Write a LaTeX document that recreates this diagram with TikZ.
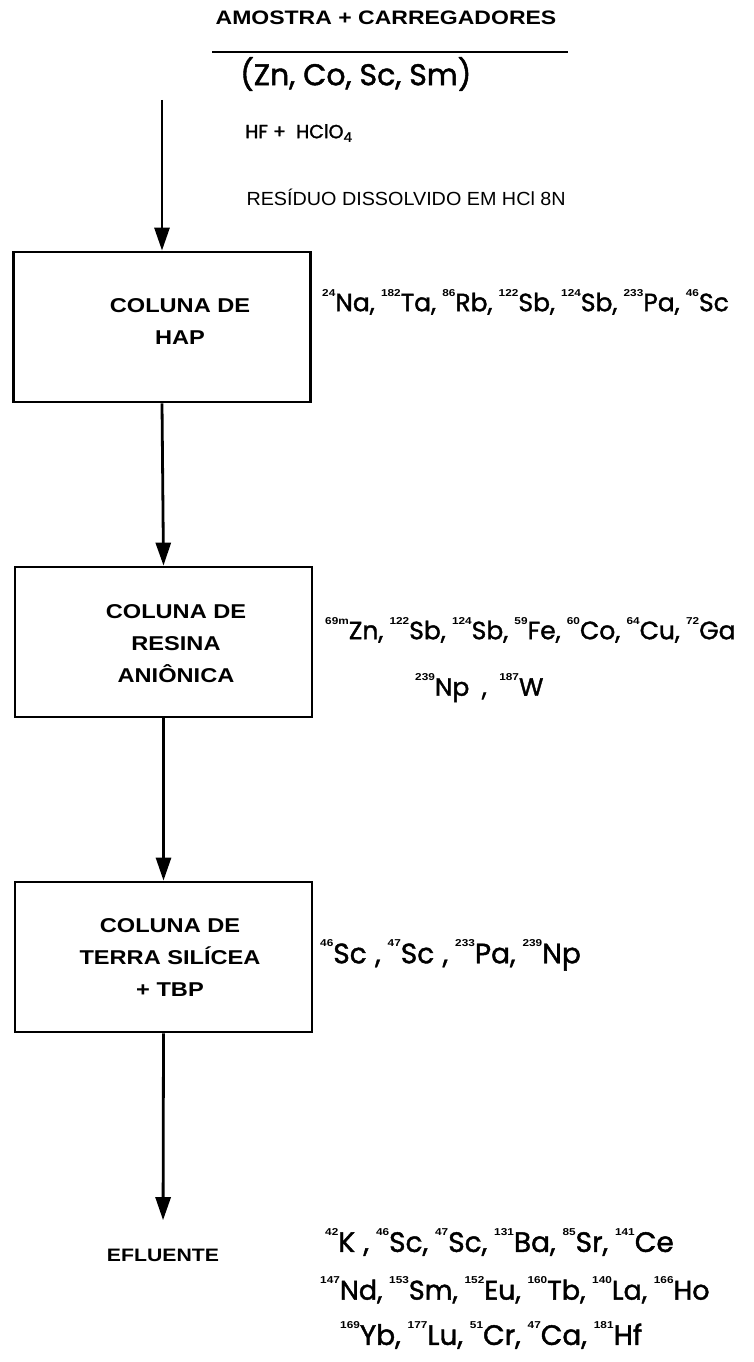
\documentclass[tikz,border=0pt]{standalone}
\usepackage{fontspec}
\setmainfont{Liberation Sans}
\newfontfamily\lab[FakeStretch=1.18]{Liberation Sans}
\newfontfamily\plain[FakeStretch=1.04]{Liberation Sans}
\newfontfamily\hand[FakeBold=1.5]{Poppins}
\usetikzlibrary{arrows.meta}
\newcommand\iso[2]{\raisebox{0.6em}{\lab\bfseries\fontsize{10}{10}\selectfont #1}#2}
\newcommand\cm{,\hspace{0.25em}}
\begin{document}
\begin{tikzpicture}[x=1pt,y=-1pt,
  box/.style={draw, line width=2.8pt, minimum width=297pt, minimum height=150pt, inner sep=0pt},
  flow/.style={line width=2.8pt, -{Triangle[length=23pt,width=15pt]}},
  btxt/.style={font=\lab\bfseries\fontsize{20}{32}\selectfont, align=center},
  ptxt/.style={font=\plain\fontsize{19}{22}\selectfont, anchor=west},
  htxt/.style={font=\hand\fontsize{25}{30}\selectfont, anchor=west, inner sep=0pt}]
\useasboundingbox (0,0) rectangle (753,1362);
\node[font=\lab\bfseries\fontsize{19.5}{22}\selectfont] (title) at (386,18) {AMOSTRA + CARREGADORES};
\draw[line width=1.5pt] (212,52) -- (568,52);
\node[htxt, font=\hand\fontsize{30}{34}\selectfont] (carr) at (240,74) {(Zn, Co, Sc, Sm)};
\node[htxt, font=\hand\fontsize{19}{24}\selectfont] (acid) at (245,133) {HF\ +\ \ HClO\textsubscript{4}};
\node[ptxt] (res) at (243,197) {RESÍDUO DISSOLVIDO EM HCl 8N};
\node[box] (b1) at (162,327) {};
\node[box] (b2) at (163.5,642) {};
\node[box] (b3) at (163.5,957) {};
\node[btxt] (t1) at (180,322) {COLUNA DE\\HAP};
\node[btxt] (t2) at (176,644) {COLUNA DE\\RESINA\\ANIÔNICA};
\node[btxt] (t3) at (170,958) {COLUNA DE\\TERRA SILÍCEA\\+ TBP};
\node[btxt, font=\lab\bfseries\fontsize{18}{22}\selectfont] (eff) at (163,1255) {EFLUENTE};
\coordinate (start) at (162,100);
\draw[flow] (start) -- (b1.north);
\draw[flow] (b1.south) -- (b2.north);
\draw[flow] (b2.south) -- (b3.north);
\draw[flow, shorten >=25pt] (b3.south) -- (eff.north);
\node[htxt] (l1) at (322,302) {\iso{24}{Na}\cm\iso{182}{Ta}\cm\iso{86}{Rb}\cm\iso{122}{Sb}\cm\iso{124}{Sb}\cm\iso{233}{Pa}\cm\iso{46}{Sc}};
\node[htxt] (l2a) at (325,630) {\iso{69m}{Zn}\cm\iso{122}{Sb}\cm\iso{124}{Sb}\cm\iso{59}{Fe}\cm\iso{60}{Co}\cm\iso{64}{Cu}\cm\iso{72}{Ga}};
\node[htxt] (l2b) at (415,688) {\iso{239}{Np}\hspace{0.5em},\hspace{0.5em}\iso{187}{W}};
\node[htxt, font=\hand\fontsize{28}{32}\selectfont] (l3) at (320,955) {\iso{46}{Sc}\hspace{0.3em}\cm\iso{47}{Sc}\hspace{0.3em}\cm\iso{233}{Pa}\cm\iso{239}{Np}};
\node[htxt, font=\hand\fontsize{28}{32}\selectfont] (l4a) at (325,1242) {\iso{42}{K}\hspace{0.3em}\cm\iso{46}{Sc}\cm\iso{47}{Sc}\cm\iso{131}{Ba}\cm\iso{85}{Sr}\cm\iso{141}{Ce}};
\node[htxt, font=\hand\fontsize{27}{32}\selectfont] (l4b) at (320,1290) {\iso{147}{Nd}\cm\iso{153}{Sm}\cm\iso{152}{Eu}\cm\iso{160}{Tb}\cm\iso{140}{La}\cm\iso{166}{Ho}};
\node[htxt, font=\hand\fontsize{28}{32}\selectfont] (l4c) at (340,1335) {\iso{169}{Yb}\cm\iso{177}{Lu}\cm\iso{51}{Cr}\cm\iso{47}{Ca}\cm\iso{181}{Hf}};
\end{tikzpicture}
\end{document}
